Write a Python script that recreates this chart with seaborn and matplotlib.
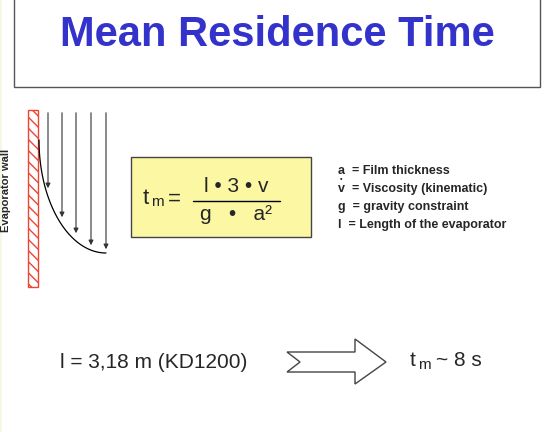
import matplotlib
matplotlib.use("Agg")
import matplotlib.pyplot as plt
import seaborn as sns
import numpy as np
from matplotlib.patches import Rectangle, Polygon

sns.set_style("white")
plt.rcParams['font.family'] = ['Liberation Sans', 'DejaVu Sans']
plt.rcParams['hatch.color'] = "#ee4433"

title = "Mean Residence Time"
arrow_x = [48, 62, 76, 91, 106]
arrow_end = [191, 220, 236, 248, 252]
legend_items = ["a  = Film thickness", "v  = Viscosity (kinematic)",
                "g  = gravity constraint", "l  = Length of the evaporator"]
length_text = "l = 3,18 m (KD1200)"
result_text = "~ 8 s"

fig = plt.figure(figsize=(5.55, 4.32), dpi=100)
ax = fig.add_axes([0, 0, 1, 1])
ax.set_xlim(0, 555); ax.set_ylim(432, 0); ax.axis("off")

ax.add_patch(Rectangle((0, 0), 2, 432, color="#f8f7e6", lw=0))
ax.add_patch(Rectangle((14, -5), 526, 92, fill=False, ec="#555555", lw=1))
ax.text(277, 35, title, ha="center", va="center", fontsize=30, weight="bold", color="#3333cc")

ax.add_patch(Rectangle((28, 110), 10, 177, fill=False, ec="#ee4433", hatch="\\\\\\", lw=1))
ax.text(6, 190, "Evaporator wall", rotation=90, ha="center", va="center", fontsize=8, weight="bold")
for x, y in zip(arrow_x, arrow_end):
    ax.annotate("", xy=(x, y), xytext=(x, 110),
                arrowprops=dict(arrowstyle="-|>", color="#333333", lw=0.8, mutation_scale=7))
th = np.linspace(0, np.pi / 2, 60)
cx = 39 + (106 - 39) * (1 - np.cos(th))
cy = 140 + (253 - 140) * np.sin(th)
sns.lineplot(x=cx, y=cy, ax=ax, color="black", lw=0.9, sort=False)

ax.add_patch(Rectangle((131, 157), 180, 80, fc="#fbf7a3", ec="#444444", lw=1))
ax.text(143, 199, "t", fontsize=16, va="center")
ax.text(151, 202, "m", fontsize=11, va="center")
ax.text(168, 199, "=", fontsize=16, va="center")
ax.plot([193, 280], [201, 201], color="black", lw=1)
ax.text(236, 187, "l • 3 • v", fontsize=15, ha="center", va="center")
ax.text(236, 215, "g   •   a²", fontsize=15, ha="center", va="center")

for i, s in enumerate(legend_items):
    ax.text(338, 171 + 18 * i, s, fontsize=9, weight="bold", va="center")
ax.text(340, 180, "•", fontsize=5, weight="bold", va="center")

ax.text(60, 362, length_text, fontsize=15, va="center")
ax.add_patch(Polygon([(287, 352), (355, 352), (355, 339), (386, 362), (355, 384), (355, 372), (287, 372), (300, 362)],
                     fill=False, ec="#444444", lw=1))
ax.text(410, 360, "t", fontsize=15, va="center")
ax.text(418, 365, "m", fontsize=11, va="center")
ax.text(436, 360, result_text, fontsize=15, va="center")

fig.savefig("out.png", dpi=100)
